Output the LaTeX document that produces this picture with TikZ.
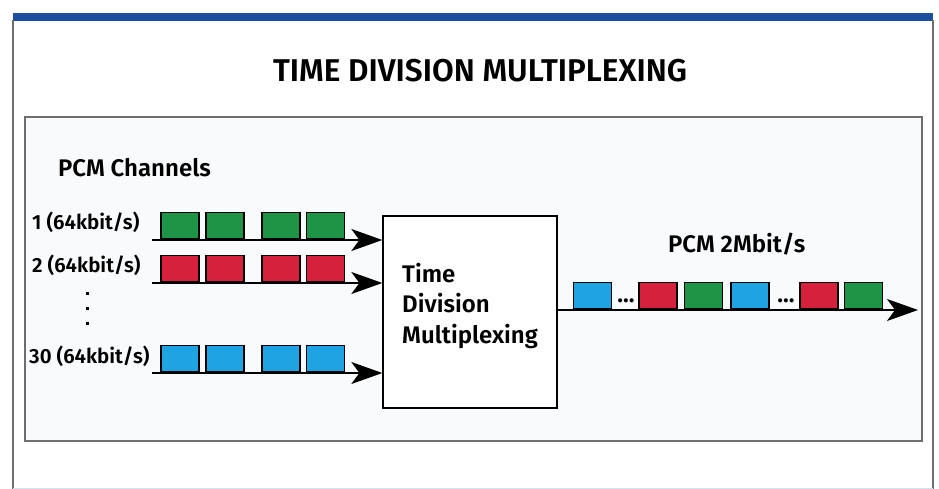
\documentclass[tikz,border=0pt]{standalone}
\usepackage{fontspec}
\setmainfont{Fira Sans}[BoldFont={Fira Sans SemiBold}]
\usetikzlibrary{arrows.meta}

\definecolor{chgreen}{HTML}{1E9447}
\definecolor{chred}{HTML}{D6213C}
\definecolor{chblue}{HTML}{1FA3E3}
\definecolor{barblue}{HTML}{1D4F9C}
\definecolor{framegray}{HTML}{6E6E6E}
\definecolor{panelfill}{HTML}{F8FAFC}
\definecolor{edgeblue}{HTML}{CFE3F0}

\tikzset{
  slot/.style={draw=black, line width=1.2pt, minimum width=38pt, minimum height=26pt, inner sep=0pt, anchor=south},
  feed/.style={line width=1.6pt, -{Stealth[length=31pt,width=22pt,inset=8pt]}},
  lbl/.style={font=\bfseries\fontsize{24}{28}\selectfont, inner sep=0pt},
  chlbl/.style={font=\bfseries\fontsize{20.5}{24}\selectfont, inner sep=0pt, anchor=base west},
}

\begin{document}
\begin{tikzpicture}[x=1pt,y=-1pt]
\useasboundingbox (0,0) rectangle (939,489);
% page frame
\fill[barblue] (13,12.7) rectangle (933,20.7);
\draw[framegray, line width=1.4pt] (13,20) -- (13,489) (933,20) -- (933,489);
\draw[edgeblue, line width=1pt] (13,488.5) -- (933,488.5);
\node[font=\bfseries\fontsize{31.5}{36}\selectfont, inner sep=0pt, anchor=base] (title) at (480,82) {TIME DIVISION MULTIPLEXING};

% panel
\draw[framegray, fill=panelfill, line width=1.3pt] (25,117) rectangle (922,441);

% multiplexer
\node[draw, fill=white, line width=1.3pt, minimum width=174pt, minimum height=192pt] (tdm) at (470,312) {};
\node[lbl, anchor=base west, align=left, font=\bfseries\fontsize{24}{30.5}\selectfont] (tdmtext) at (402,343) {Time\\Division\\Multiplexing};

% input channels
\node[lbl, anchor=base west] (chans) at (58,177) {PCM Channels};
\node[chlbl] (lab1) at (32,229) {1 (64kbit/s)};
\node[chlbl] (lab2) at (32,272) {2 (64kbit/s)};
\node[chlbl] (lab30) at (29,363) {30 (64kbit/s)};
\fill (85.5,291.5) rectangle +(3.5,3.5);
\fill (85.5,306.5) rectangle +(3.5,3.5);
\fill (85.5,321.5) rectangle +(3.5,3.5);

\coordinate (s1) at (152,240);
\coordinate (s2) at (152,283);
\coordinate (s30) at (152,373);
\foreach \x [count=\i] in {180,225,281,325.5} {
  \node[slot, fill=chgreen] (g\i) at (\x,239) {};
  \node[slot, fill=chred] (r\i) at (\x,282) {};
  \node[slot, fill=chblue] (b\i) at (\x,372) {};
}
\draw[feed] (s1) -- (s1 -| tdm.west);
\draw[feed] (s2) -- (s2 -| tdm.west);
\draw[feed] (s30) -- (s30 -| tdm.west);

% output stream
\node[lbl, anchor=base west] (outlab) at (668,252) {PCM 2Mbit/s};
\coordinate (oend) at (918,310);
\node[slot, fill=chblue] (o1) at (592.5,309) {};
\node[slot, fill=chred] (o2) at (658,309) {};
\node[slot, fill=chgreen] (o3) at (703.5,309) {};
\node[slot, fill=chblue] (o4) at (750,309) {};
\node[slot, fill=chred] (o5) at (819,309) {};
\node[slot, fill=chgreen] (o6) at (863.5,309) {};
\node[lbl, anchor=base] (dots1) at (626,302) {...};
\node[lbl, anchor=base] (dots2) at (786,302) {...};
\draw[feed] (oend -| tdm.east) -- (oend);
\end{tikzpicture}
\end{document}
